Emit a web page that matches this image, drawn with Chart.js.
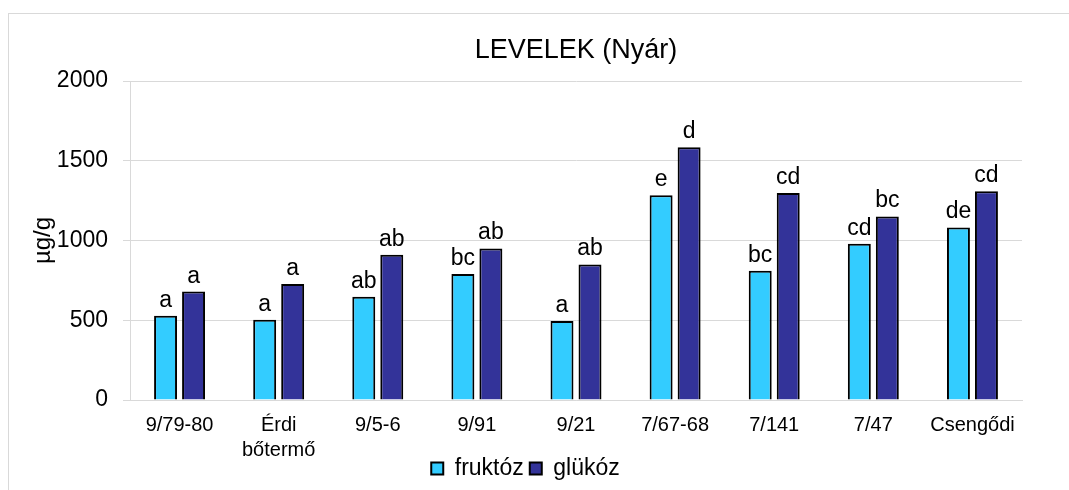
<!DOCTYPE html>
<html>
<head>
<meta charset="utf-8">
<script src="https://cdn.jsdelivr.net/npm/chart.js@4/dist/chart.umd.min.js"></script>
<style>
  html, body { margin: 0; padding: 0; background: #fff; }
  #wrap { position: relative; width: 1069px; height: 490px; }
  #frame { position: absolute; left: 8px; top: 13px; right: 0; bottom: 0;
           border-left: 1px solid #d9d9d9; border-top: 1px solid #d9d9d9; }
  canvas { position: absolute; left: 0; top: 0; }
</style>
</head>
<body>
<div id="wrap">
  <div id="frame"></div>
  <canvas id="chart" width="1069" height="490"></canvas>
</div>
<script>
// ---- data ----
const categories = ['9/79-80', ['Érdi', 'bőtermő'], '9/5-6', '9/91', '9/21', '7/67-68', '7/141', '7/47', 'Csengődi'];
const fruktoz = [528, 503, 647, 790, 495, 1283, 811, 979, 1082];
const glukoz = [680, 727, 910, 950, 850, 1585, 1298, 1151, 1308];
const fruktozLetters = ['a', 'a', 'ab', 'bc', 'a', 'e', 'bc', 'cd', 'de'];
const glukozLetters = ['a', 'a', 'ab', 'ab', 'ab', 'd', 'cd', 'bc', 'cd'];
const yTicks = [0, 500, 1000, 1500, 2000];

const FONT = "'Liberation Sans', Arial, sans-serif";
const GRID = '#d9d9d9';

// letters above the bars
const letterPlugin = {
    id: 'letters',
    afterDatasetsDraw(chart) {
        const ctx = chart.ctx;
        ctx.save();
        ctx.font = '23px ' + FONT;
        ctx.fillStyle = '#000';
        ctx.textAlign = 'center';
        ctx.textBaseline = 'alphabetic';
        chart.data.datasets.forEach((ds, i) => {
            const meta = chart.getDatasetMeta(i);
            meta.data.forEach((bar, j) => {
                ctx.fillText(ds.letters[j], bar.x, bar.y - 9);
            });
        });
        ctx.restore();
    }
};

new Chart(document.getElementById('chart'), {
    type: 'bar',
    data: {
        labels: categories,
        datasets: [
            {
                label: 'fruktóz',
                data: fruktoz,
                letters: fruktozLetters,
                backgroundColor: '#33ccff',
                borderColor: '#000',
                borderWidth: 2,
                categoryPercentage: 0.565,
                barPercentage: 0.82
            },
            {
                label: 'glükóz',
                data: glukoz,
                letters: glukozLetters,
                backgroundColor: '#333399',
                borderColor: '#000',
                borderWidth: 2,
                categoryPercentage: 0.565,
                barPercentage: 0.82
            }
        ]
    },
    options: {
        responsive: false,
        animation: false,
        layout: { padding: { left: 29, right: 47, top: 14, bottom: 0 } },
        plugins: {
            title: {
                display: true,
                text: 'LEVELEK (Nyár)',
                fullSize: false,
                color: '#000',
                font: { family: FONT, size: 27, weight: 'normal' },
                padding: { top: 20.8, bottom: 13.8 }
            },
            legend: {
                display: true,
                position: 'bottom',
                labels: {
                    color: '#000',
                    font: { family: FONT, size: 23 },
                    boxWidth: 12,
                    boxHeight: 12,
                    padding: 6
                }
            },
            tooltip: { enabled: false }
        },
        scales: {
            x: {
                grid: { display: false, drawTicks: false },
                border: { display: true, color: GRID, width: 1 },
                ticks: {
                    color: '#000',
                    font: { family: FONT, size: 20, lineHeight: 1.25 },
                    padding: 13,
                    maxRotation: 0,
                    autoSkip: false
                },
                afterFit(scale) {
                    scale.height = 51;
                    // let the two-line label run past the scale box, as in the original
                    scale._computeLabelArea = () => null;
                }
            },
            y: {
                min: 0,
                max: 2000,
                afterBuildTicks(scale) { scale.ticks = yTicks.map(v => ({ value: v })); },
                grid: { color: GRID, lineWidth: 1, tickLength: 7 },
                border: { display: true, color: GRID, width: 1 },
                ticks: {
                    color: '#000',
                    font: { family: FONT, size: 23 },
                    padding: 15,
                    callback: v => String(v)
                },
                title: {
                    display: true,
                    text: 'µg/g',
                    color: '#000',
                    font: { family: FONT, size: 24 },
                    padding: 0
                },
                afterFit(scale) { scale.width = 101; }
            }
        }
    },
    plugins: [letterPlugin]
});
</script>
</body>
</html>
